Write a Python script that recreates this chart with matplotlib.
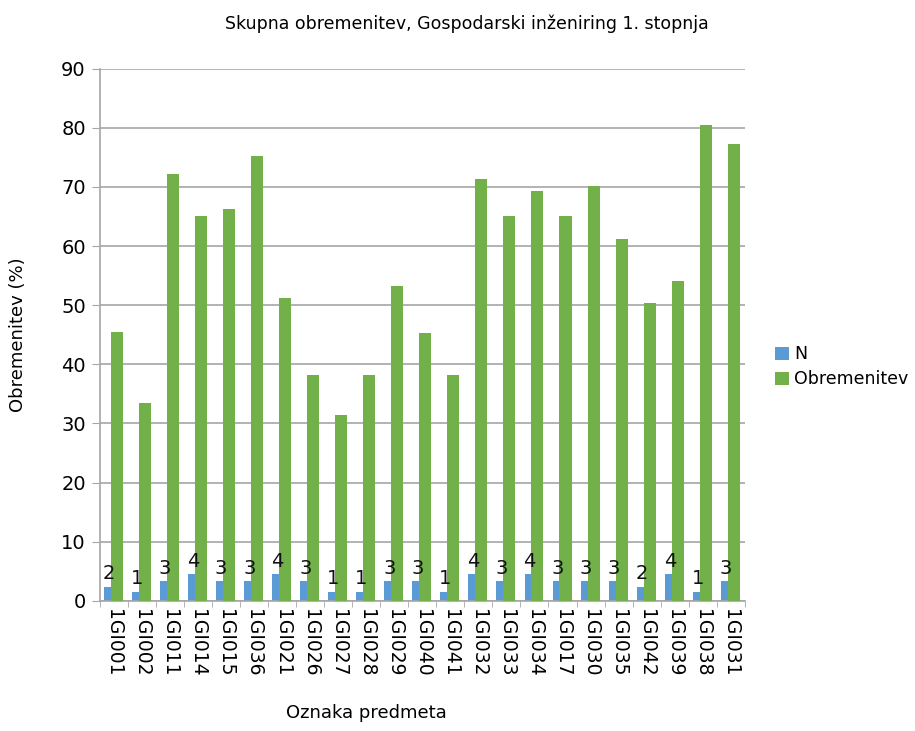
import numpy as np
import matplotlib.pyplot as plt
from matplotlib.ticker import FixedLocator

predmeti = ['1GI001', '1GI002', '1GI011', '1GI014', '1GI015', '1GI036', '1GI021',
            '1GI026', '1GI027', '1GI028', '1GI029', '1GI040', '1GI041', '1GI032',
            '1GI033', '1GI034', '1GI017', '1GI030', '1GI035', '1GI042', '1GI039',
            '1GI038', '1GI031']
# oznake N, kot so izpisane nad stolpci
n_vals = [2, 1, 3, 4, 3, 3, 4, 3, 1, 1, 3, 3, 1, 4, 3, 4, 3, 3, 3, 2, 4, 1, 3]
# višine modrih stolpcev, kot so narisane na grafu
n_visina = [2.4, 1.5, 3.3, 4.5, 3.3, 3.3, 4.5, 3.3, 1.5, 1.5, 3.3, 3.3, 1.5, 4.5,
            3.3, 4.5, 3.3, 3.3, 3.3, 2.4, 4.5, 1.5, 3.3]
obremenitev = [45.4, 33.5, 72.2, 65.1, 66.3, 75.3, 51.3, 38.2, 31.5, 38.2, 53.3,
               45.3, 38.2, 71.4, 65.1, 69.4, 65.1, 70.2, 61.2, 50.4, 54.1, 80.4, 77.3]

blue = '#5B9BD5'
green = '#72B04A'
grid_col = '#A6A6A6'

fig = plt.figure(figsize=(9.15, 7.31), dpi=100)
ax = fig.add_axes([0.109, 0.178, 0.705, 0.728])

x = np.arange(len(predmeti))
w = 0.43
ax.bar(x - 0.14, n_visina, width=w, color=blue, label='N', zorder=2)
ax.bar(x + 0.107, obremenitev, width=w, color=green, label='Obremenitev', zorder=3)

# oznake nad N stolpci
for xi, h, v in zip(x, n_visina, n_vals):
    ax.text(xi - 0.17, h + 0.6, str(v), ha='center', va='bottom', fontsize=14,
            color='#111111', zorder=4)

ax.set_xlim(-0.5, len(predmeti) - 0.5)
ax.set_ylim(0, 90)
ax.set_yticks(range(0, 91, 10))
ax.yaxis.grid(True, color=grid_col, linewidth=1.2, zorder=0)
ax.set_axisbelow(True)

ax.set_xticks(x)
ax.set_xticklabels(predmeti, rotation=270, fontsize=13.5)
ax.xaxis.set_minor_locator(FixedLocator(np.arange(-0.5, len(predmeti), 1)))
ax.tick_params(axis='x', which='major', length=0, pad=6)
ax.tick_params(axis='x', which='minor', length=4, color=grid_col)
ax.tick_params(axis='y', length=6, color=grid_col, labelsize=14, pad=4)

for s in ['top', 'right']:
    ax.spines[s].set_visible(False)
for s in ['left', 'bottom']:
    ax.spines[s].set_color(grid_col)
    ax.spines[s].set_linewidth(1.2)

ax.set_ylabel('Obremenitev (%)', fontsize=13)
ax.yaxis.set_label_coords(-0.112, 0.5)
fig.text(0.40, 0.012, 'Oznaka predmeta', ha='center', va='bottom', fontsize=13)
fig.text(0.51, 0.968, 'Skupna obremenitev, Gospodarski inženiring 1. stopnja',
         ha='center', va='center', fontsize=12.5)

fig.legend(loc='center left', bbox_to_anchor=(0.83, 0.498), frameon=False,
           fontsize=12.5, handlelength=0.8, handleheight=0.8, handletextpad=0.3,
           labelspacing=0.4)

plt.savefig('out.png', dpi=100)
